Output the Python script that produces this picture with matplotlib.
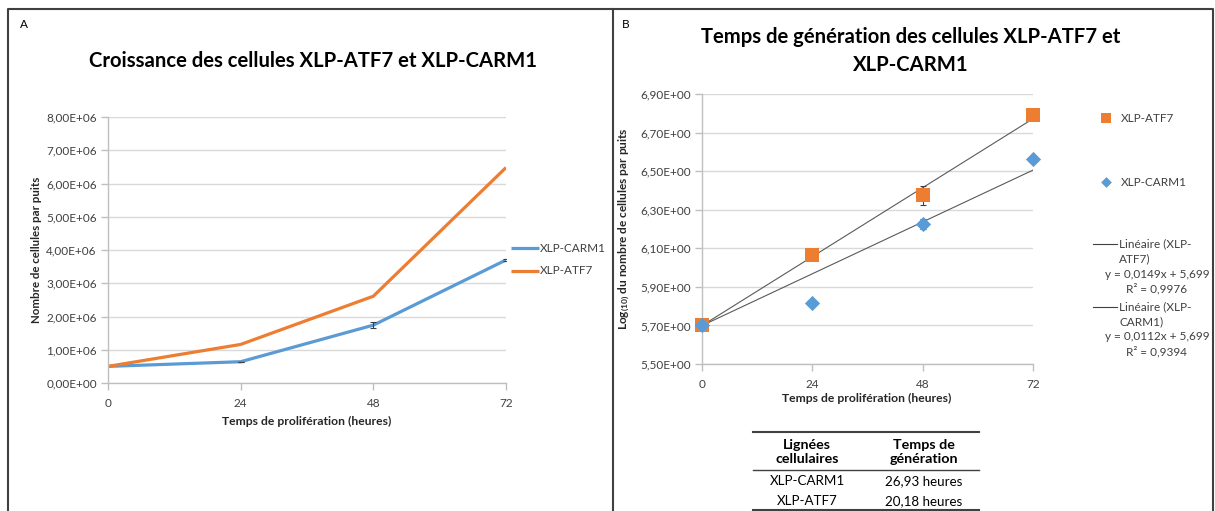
import matplotlib
matplotlib.use("Agg")
import matplotlib.pyplot as plt

plt.rcParams['font.family'] = ['Lato', 'DejaVu Sans']
plt.rcParams['mathtext.fontset'] = 'custom'
plt.rcParams['mathtext.rm'] = 'Lato'
plt.rcParams['mathtext.bf'] = 'Lato:bold'
plt.rcParams['mathtext.default'] = 'bf'

# ---------------- data ----------------
hours = [0, 24, 48, 72]
x_ticklabels = ['0', '24', '48', '72']

# Panel A: raw cell counts
carm1_counts = [0.50e6, 0.64e6, 1.74e6, 3.70e6]
carm1_counts_err = [0.0, 0.0, 0.08e6, 0.04e6]
atf7_counts = [0.50e6, 1.16e6, 2.61e6, 6.48e6]
a_yticks = [0, 1e6, 2e6, 3e6, 4e6, 5e6, 6e6, 7e6, 8e6]
a_yticklabels = ['0,00E+00', '1,00E+06', '2,00E+06', '3,00E+06', '4,00E+06',
                 '5,00E+06', '6,00E+06', '7,00E+06', '8,00E+06']

# Panel B: log10 cell counts
atf7_log = [5.70, 6.063, 6.375, 6.79]
atf7_log_err = [0.0, 0.0, 0.05, 0.0]
carm1_log = [5.70, 5.815, 6.225, 6.563]
carm1_log_err = [0.0, 0.0, 0.025, 0.0]
atf7_fit = (0.0149, 5.699)
carm1_fit = (0.0112, 5.699)
b_yticks = [5.5, 5.7, 5.9, 6.1, 6.3, 6.5, 6.7, 6.9]
b_yticklabels = ['5,50E+00', '5,70E+00', '5,90E+00', '6,10E+00', '6,30E+00',
                 '6,50E+00', '6,70E+00', '6,90E+00']

# Table
table_header = ['Lignées\ncellulaires', 'Temps de\ngénération']
table_lines = ['XLP-CARM1', 'XLP-ATF7']
table_times = ['26,93 heures', '20,18 heures']

BLUE = '#5B9BD5'
ORANGE = '#ED7D31'
GRID = '#D9D9D9'
AXC = '#BFBFBF'
TXT = '#404040'

W, H = 1215, 511
fig = plt.figure(figsize=(W / 100, H / 100), dpi=100)


def axes_px(x0, y0, x1, y1):
    return fig.add_axes([x0 / W, 1 - y1 / H, (x1 - x0) / W, (y1 - y0) / H])


def style_axes(ax):
    for s in ['top', 'right']:
        ax.spines[s].set_visible(False)
    for s in ['left', 'bottom']:
        ax.spines[s].set_color(AXC)
        ax.spines[s].set_linewidth(1.0)
    ax.grid(axis='y', color=GRID, linewidth=1.0)
    ax.set_axisbelow(True)
    ax.tick_params(axis='both', colors=AXC, length=5, width=1.0, labelsize=8.5,
                   labelcolor=TXT, pad=3)
    ax.tick_params(axis='x', pad=6)
    ax.set_facecolor('none')


# Outer frame
frame = fig.add_axes([0, 0, 1, 1])
frame.set_xlim(0, W)
frame.set_ylim(H, 0)
frame.axis('off')
frame.plot([8, 8, 1213, 1213], [H + 2, 9, 9, H + 2], color='#404040', lw=1.5)
frame.plot([613, 613], [9, H + 2], color='#404040', lw=1.5)
frame.text(20, 24, 'A', fontsize=8.5, va='center', ha='left', color='#000000')
frame.text(622, 24, 'B', fontsize=8.5, va='center', ha='left', color='#000000')

# ---------------- Panel A ----------------
axA = axes_px(108, 117, 506, 383)
style_axes(axA)
axA.plot(hours, carm1_counts, color=BLUE, lw=2.3, solid_capstyle='butt', label='XLP-CARM1')
axA.errorbar(hours, carm1_counts, yerr=carm1_counts_err, fmt='none', ecolor='#404040',
             elinewidth=0.8, capsize=2.5, capthick=0.8)
axA.plot(hours, atf7_counts, color=ORANGE, lw=2.3, solid_capstyle='butt', label='XLP-ATF7')
axA.set_xlim(0, 72)
axA.set_ylim(0, 8e6)
axA.set_xticks(hours)
axA.set_xticklabels(x_ticklabels)
axA.set_yticks(a_yticks)
axA.set_yticklabels(a_yticklabels)
frame.text(313, 61, 'Croissance des cellules XLP-ATF7 et XLP-CARM1', fontsize=14.6,
           fontweight='bold', ha='center', va='center', color='#000000')
frame.text(307, 421, 'Temps de prolifération (heures)', fontsize=8.7, fontweight='bold',
           ha='center', va='center', color='#262626')
frame.text(37, 250, 'Nombre de cellules par puits', fontsize=8.3, fontweight='bold',
           ha='center', va='center', rotation=90, color='#262626')
# legend A
for (lbl, c, yy) in [('XLP-CARM1', BLUE, 248), ('XLP-ATF7', ORANGE, 271)]:
    frame.plot([511, 539], [yy, yy], color=c, lw=2.3, solid_capstyle='butt')
    frame.text(540, yy, lbl, fontsize=8.5, ha='left', va='center', color=TXT)

# ---------------- Panel B ----------------
axB = axes_px(702, 94, 1033, 364)
style_axes(axB)
axB.set_xlim(0, 72)
axB.set_ylim(5.5, 6.9)
axB.set_xticks(hours)
axB.set_xticklabels(x_ticklabels)
axB.set_yticks(b_yticks)
axB.set_yticklabels(b_yticklabels)
fx = [0, 72]
axB.plot(fx, [atf7_fit[1] + atf7_fit[0] * v for v in fx], color='#595959', lw=0.8, zorder=2)
axB.plot(fx, [carm1_fit[1] + carm1_fit[0] * v for v in fx], color='#595959', lw=0.8, zorder=2)
axB.errorbar(hours, atf7_log, yerr=atf7_log_err, fmt='none', ecolor='#404040',
             elinewidth=0.8, capsize=2.5, capthick=0.8, zorder=3)
axB.errorbar(hours, carm1_log, yerr=carm1_log_err, fmt='none', ecolor='#404040',
             elinewidth=0.8, capsize=2.5, capthick=0.8, zorder=3)
axB.scatter(hours, atf7_log, marker='s', s=105, color=ORANGE, zorder=4, clip_on=False,
            linewidths=0)
axB.scatter(hours, carm1_log, marker='D', s=60, color=BLUE, zorder=5, clip_on=False,
            linewidths=0)

frame.text(911, 37, 'Temps de génération des cellules XLP-ATF7 et', fontsize=14.6,
           fontweight='bold', ha='center', va='center', color='#000000')
frame.text(911, 65, 'XLP-CARM1', fontsize=14.6,
           fontweight='bold', ha='center', va='center', color='#000000')
frame.text(867, 398, 'Temps de prolifération (heures)', fontsize=8.7, fontweight='bold',
           ha='center', va='center', color='#262626')
frame.text(624, 229, 'Log$_{(10)}$ du nombre de cellules par puits', fontsize=8.6,
           fontweight='bold', ha='center', va='center', rotation=90, color='#262626')

# legend B
frame.scatter([1106], [118], marker='s', s=60, color=ORANGE, linewidths=0)
frame.text(1121, 118, 'XLP-ATF7', fontsize=8.5, ha='left', va='center', color=TXT)
frame.scatter([1106], [182], marker='D', s=30, color=BLUE, linewidths=0)
frame.text(1121, 182, 'XLP-CARM1', fontsize=8.5, ha='left', va='center', color=TXT)
for (y0, name, eq, r2) in [(244, 'ATF7)', 'y = 0,0149x + 5,699', 'R² = 0,9976'),
                           (307, 'CARM1)', 'y = 0,0112x + 5,699', 'R² = 0,9394')]:
    frame.plot([1093, 1117], [y0, y0], color='#404040', lw=0.8)
    frame.text(1119, y0, 'Linéaire (XLP-', fontsize=8.5, ha='left', va='center', color=TXT)
    frame.text(1119, y0 + 15, name, fontsize=8.5, ha='left', va='center', color=TXT)
    frame.text(1157, y0 + 30, eq, fontsize=8.5, ha='center', va='center', color=TXT)
    frame.text(1157, y0 + 45, r2, fontsize=8.5, ha='center', va='center', color=TXT)

# ---------------- Table ----------------
frame.plot([753, 979], [432, 432], color='#404040', lw=1.5)
frame.plot([753, 979], [470, 470], color='#404040', lw=1.0)
frame.plot([753, 979], [510.5, 510.5], color='#404040', lw=1.5)
col_x = [807, 924]
for cx, h in zip(col_x, table_header):
    frame.text(cx, 452, h, fontsize=10.3, fontweight='bold', ha='center', va='center',
               color='#000000', linespacing=1.25)
for i, (ln, tm) in enumerate(zip(table_lines, table_times)):
    yy = 481 + i * 20
    frame.text(col_x[0], yy, ln, fontsize=9.6, ha='center', va='center', color='#000000')
    frame.text(col_x[1], yy, tm, fontsize=9.6, ha='center', va='center', color='#000000')

fig.savefig('out.png', dpi=100)
